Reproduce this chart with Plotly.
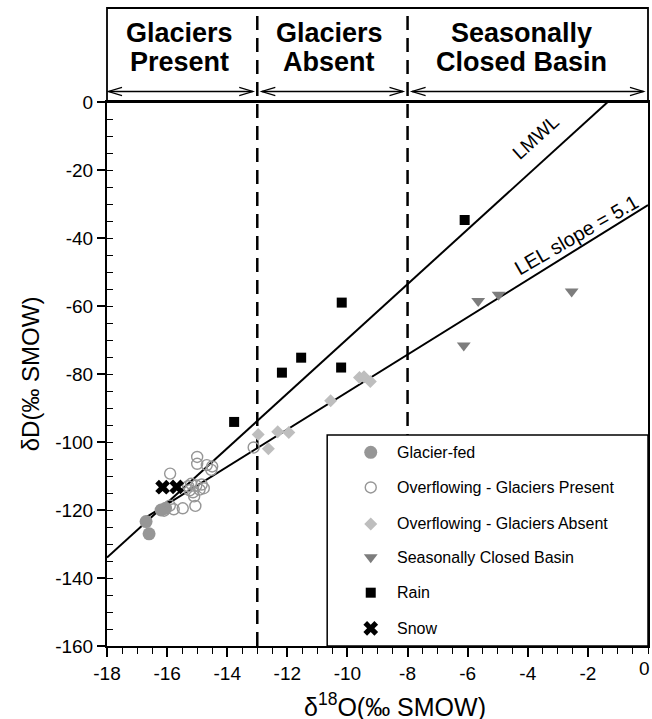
import plotly.graph_objects as go

# ---------------- data ----------------
glacier_fed_x = [-16.7, -16.6, -16.2, -16.05]
glacier_fed_y = [-123.4, -127.0, -120.0, -119.5]

overflow_present_x = [-15.9, -15.0, -15.0, -14.68, -14.5, -14.53, -15.3, -15.03, -14.92, -15.25,
                      -14.78, -15.14, -15.91, -15.48, -15.78, -15.06, -13.12, -16.1, -15.2, -14.85, -15.1]
overflow_present_y = [-109.3, -104.4, -106.4, -106.8, -107.2, -108.2, -113.0, -112.8, -114.0, -114.2,
                      -113.6, -114.8, -118.7, -119.5, -119.8, -118.8, -101.6, -120.2, -112.3, -112.5, -116.0]

overflow_absent_x = [-12.97, -12.32, -11.95, -12.63, -10.56, -9.6, -9.45, -9.24]
overflow_absent_y = [-97.8, -97.0, -97.2, -102.0, -87.9, -81.0, -80.8, -82.2]

closed_basin_x = [-5.65, -4.97, -2.54, -6.13]
closed_basin_y = [-58.5, -56.7, -55.7, -71.6]

rain_x = [-6.1, -10.19, -11.54, -12.18, -10.21, -13.77]
rain_y = [-34.7, -59.0, -75.2, -79.6, -78.1, -94.1]

snow_x = [-18.05, -16.15, -15.68]
snow_y = [-131.0, -113.3, -113.2]

lmwl_x = [-18.0, -1.34]
lmwl_y = [-134.0, 0.0]
lel_x = [-16.8, 0.0]
lel_y = [-122.7, -30.3]

x_tickvals = [-18, -16, -14, -12, -10, -8, -6, -4, -2]
x_ticktext = ["-18", "-16", "-14", "-12", "-10", "-8", "-6", "-4", "-2"]
x_last_tick = (0, "0")
y_tickvals = [-160, -140, -120, -100, -80, -60, -40, -20, 0]
y_ticktext = ["-160", "-140", "-120", "-100", "-80", "-60", "-40", "-20", "0"]

zone_bounds = [-13, -8]
zone_spans = [(-17.95, -13.15), (-12.85, -8.15), (-7.85, -0.15)]
zone_titles = [("Glaciers", "Present", -15.6), ("Glaciers", "Absent", -10.6), ("Seasonally", "Closed Basin", -4.2)]

legend_names = ["Glacier-fed", "Overflowing - Glaciers Present", "Overflowing - Glaciers Absent",
                "Seasonally Closed Basin", "Rain", "Snow"]

# ---------------- styles ----------------
FONT = "Liberation Sans, Arial, Helvetica, sans-serif"
styles = [
    dict(symbol="circle", size=13, color="rgb(150,150,150)", line=dict(width=0)),
    dict(symbol="circle-open", size=11, color="rgb(150,150,150)", line=dict(width=1.4, color="rgb(150,150,150)")),
    dict(symbol="diamond", size=10, color="rgb(190,190,190)", line=dict(width=0)),
    dict(symbol="triangle-down", size=12, color="rgb(125,125,125)", line=dict(width=0)),
    dict(symbol="square", size=10, color="black", line=dict(width=0)),
    dict(symbol="x", size=13, color="black", line=dict(width=0)),
]

fig = go.Figure()

fig.add_trace(go.Scatter(x=lmwl_x, y=lmwl_y, mode="lines", line=dict(color="black", width=2),
                         showlegend=False, hoverinfo="skip"))
fig.add_trace(go.Scatter(x=lel_x, y=lel_y, mode="lines", line=dict(color="black", width=2),
                         showlegend=False, hoverinfo="skip"))

series = [(glacier_fed_x, glacier_fed_y), (overflow_present_x, overflow_present_y),
          (overflow_absent_x, overflow_absent_y), (closed_basin_x, closed_basin_y),
          (rain_x, rain_y), (snow_x, snow_y)]
for (sx, sy), st, name in zip(series, styles, legend_names):
    fig.add_trace(go.Scatter(x=sx, y=sy, mode="markers", marker=st, name=name,
                             showlegend=False, cliponaxis=False))

# ---------------- manual legend ----------------
leg_rows = [0.356, 0.2914, 0.2243, 0.1631, 0.0980, 0.0325]
leg_mx = 0.4875
leg_tx = 0.532
for st, ry, name in zip(styles, leg_rows, legend_names):
    fig.add_trace(go.Scatter(x=[leg_mx], y=[ry], mode="markers", marker=st, xaxis="x2", yaxis="y2",
                             showlegend=False, hoverinfo="skip", cliponaxis=False))
    fig.add_annotation(x=leg_tx, y=ry, xref="paper", yref="paper", text=name, showarrow=False,
                       xanchor="left", yanchor="middle", font=dict(family=FONT, size=16, color="black"))

shapes = []
HEADER_TOP = 1.1728
for b in zone_bounds:
    shapes.append(dict(type="line", xref="x", yref="paper", x0=b, x1=b, y0=0, y1=HEADER_TOP,
                       line=dict(color="black", width=2.5, dash="14px,8px"), layer="below"))
# legend box (covers dashed line)
shapes.append(dict(type="rect", xref="paper", yref="paper", x0=0.407, x1=1.0, y0=0.0, y1=0.388,
                   fillcolor="white", line=dict(color="black", width=1.5), layer="below"))
# header box
shapes.append(dict(type="rect", xref="paper", yref="paper", x0=0, x1=1, y0=1, y1=HEADER_TOP,
                   line=dict(color="black", width=1.8), fillcolor="rgba(0,0,0,0)", layer="above"))
# arrows
ya = 1.0193
dx = 0.45
dy = 0.0075
for a, b in zone_spans:
    shapes.append(dict(type="path", xref="x", yref="paper",
                       path=f"M{a},{ya} L{b},{ya}", line=dict(color="black", width=1.3)))
    shapes.append(dict(type="path", xref="x", yref="paper",
                       path=f"M{a+dx},{ya+dy} L{a},{ya} L{a+dx},{ya-dy}", line=dict(color="black", width=1.3)))
    shapes.append(dict(type="path", xref="x", yref="paper",
                       path=f"M{b-dx},{ya+dy} L{b},{ya} L{b-dx},{ya-dy}", line=dict(color="black", width=1.3)))

for l1, l2, cx in zone_titles:
    fig.add_annotation(x=cx, y=1.1268, xref="x", yref="paper", text=f"<b>{l1}</b>", showarrow=False,
                       xanchor="center", yanchor="middle", font=dict(family=FONT, size=27, color="black"))
    fig.add_annotation(x=cx, y=1.0735, xref="x", yref="paper", text=f"<b>{l2}</b>", showarrow=False,
                       xanchor="center", yanchor="middle", font=dict(family=FONT, size=27, color="black"))

# line labels
fig.add_annotation(x=-3.75, y=-10.3, xref="x", yref="y", text="LMWL", showarrow=False, textangle=-42,
                   font=dict(family=FONT, size=19, color="black"))
fig.add_annotation(x=-2.39, y=-39.1, xref="x", yref="y", text="LEL slope = 5.1", showarrow=False, textangle=-30,
                   font=dict(family=FONT, size=20, color="black"))

# last x tick label (at the very right edge)
fig.add_annotation(x=x_last_tick[0], y=0, xref="x", yref="paper", text=x_last_tick[1], showarrow=False,
                   xanchor="right", yanchor="top", xshift=4, yshift=-10,
                   font=dict(family=FONT, size=19, color="black"))

# axis titles
fig.add_annotation(x=-0.1418, y=0.5, xref="paper", yref="paper", text="δD(‰ SMOW)", showarrow=False,
                   textangle=-90, xanchor="center", yanchor="middle", font=dict(family=FONT, size=24, color="black"))
fig.add_annotation(x=0.532, y=-0.1085, xref="paper", yref="paper", text="δ<sup>18</sup>O(‰ SMOW)", showarrow=False,
                   xanchor="center", yanchor="middle", font=dict(family=FONT, size=25, color="black"))

fig.update_layout(
    width=652, height=719,
    margin=dict(l=107, r=2, t=102, b=73),
    paper_bgcolor="white", plot_bgcolor="white",
    showlegend=False,
    shapes=shapes,
    font=dict(family=FONT, size=19, color="black"),
    xaxis=dict(range=[-18, 0], tickvals=x_tickvals, ticktext=x_ticktext, showgrid=False, zeroline=False,
               showline=True, linecolor="black", linewidth=2, mirror=True,
               ticks="outside", ticklen=9, tickwidth=1.5, tickcolor="black",
               tickfont=dict(family=FONT, size=19, color="black"),
               minor=dict(dtick=0.5, tick0=0, ticks="outside", ticklen=6, tickwidth=1.2, tickcolor="black")),
    yaxis=dict(range=[-160, 0], tickvals=y_tickvals, ticktext=y_ticktext, showgrid=False, zeroline=False,
               showline=True, linecolor="black", linewidth=2, mirror=True,
               ticks="outside", ticklen=8, tickwidth=1.5, tickcolor="black",
               tickfont=dict(family=FONT, size=19, color="black"),
               minor=dict(dtick=5, tick0=0, ticks="inside", ticklen=6, tickwidth=1.2, tickcolor="black")),
    xaxis2=dict(range=[0, 1], overlaying="x", visible=False, fixedrange=True),
    yaxis2=dict(range=[0, 1], overlaying="y", visible=False, fixedrange=True),
)

fig.write_html("out.html")
